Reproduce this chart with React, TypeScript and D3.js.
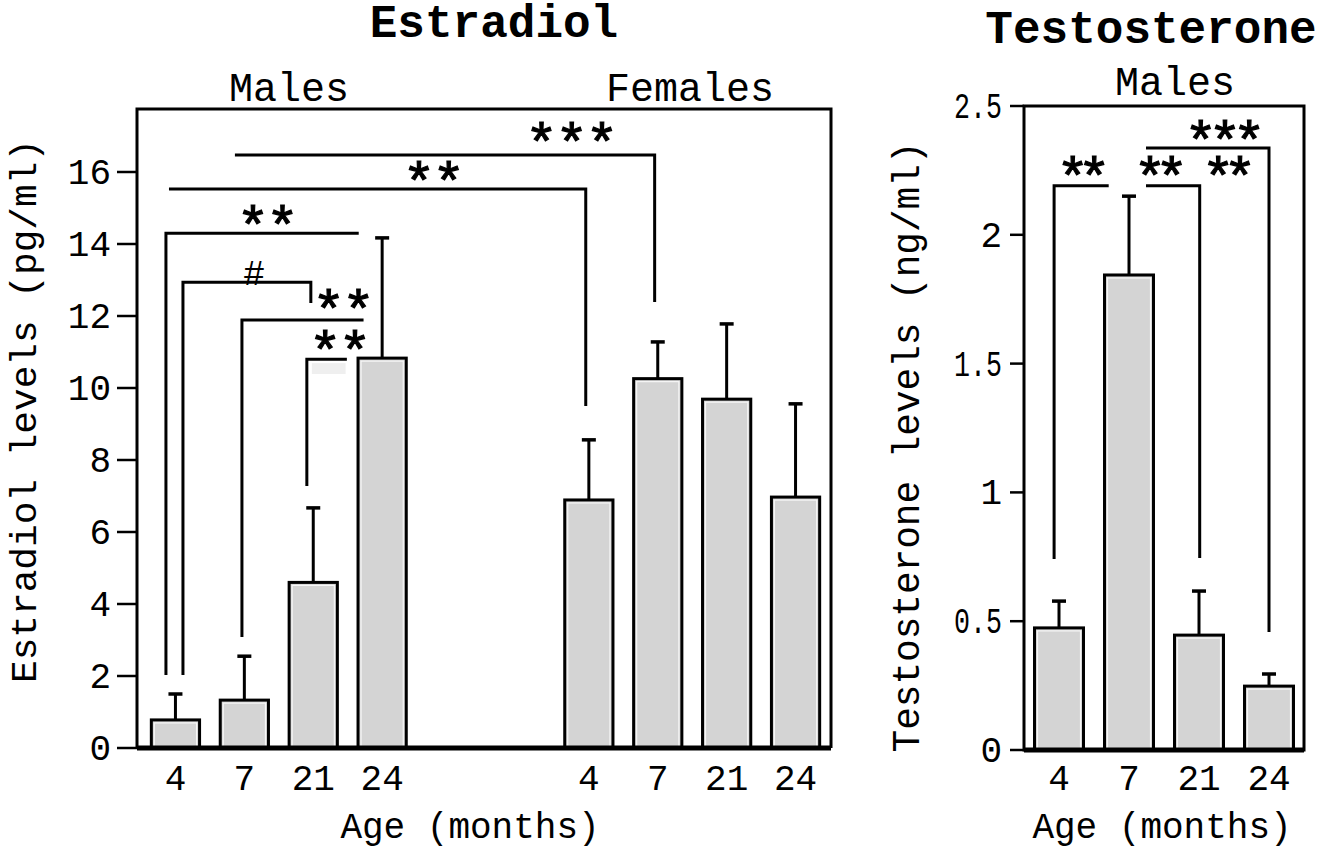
import React from "react";
import * as d3 from "d3";

// ---------- DATA ----------
const ageLabels = ["4", "7", "21", "24"];
const estradiolMales = [0.78, 1.33, 4.6, 10.83];
const estradiolMalesSem = [0.72, 1.22, 2.07, 3.34];
const estradiolFemales = [6.89, 10.26, 9.69, 6.97];
const estradiolFemalesSem = [1.67, 1.02, 2.09, 2.59];
const testosteroneMales = [0.474, 1.844, 0.446, 0.248];
const testosteroneMalesSem = [0.104, 0.306, 0.171, 0.047];
const estradiolTicks = [0, 2, 4, 6, 8, 10, 12, 14, 16];
const testosteroneTicks = [0, 0.5, 1, 1.5, 2, 2.5];
const testosteroneTickLabels = ["0", "0.5", "1", "1.5", "2", "2.5"];

// significance brackets (x in slot units, y in data units)
// left chart slots: males 0..3, females 6..9
const estradiolBrackets = [
  { x1: 0.863, x2: 6.955, y: 16.47, leftEnd: null, rightEnd: 12.39 },
  { x1: -0.094, x2: 5.955, y: 15.53, leftEnd: null, rightEnd: 9.5 },
  { x1: -0.138, x2: 2.66, y: 14.3, leftEnd: 2.03, rightEnd: null },
  { x1: 0.109, x2: 1.965, y: 12.94, leftEnd: 2.03, rightEnd: 12.36 },
  { x1: 0.965, x2: 2.73, y: 11.89, leftEnd: 3.08, rightEnd: null },
  { x1: 1.907, x2: 2.488, y: 10.8, leftEnd: 7.28, rightEnd: null },
];
const estradiolMarks = [
  { x: 5.75, y: 17.05, label: "***" },
  { x: 3.75, y: 15.97, label: "**" },
  { x: 1.34, y: 14.75, label: "**" },
  { x: 2.44, y: 12.42, label: "**" },
  { x: 2.39, y: 11.28, label: "**" },
];
const estradiolHash = [{ x: 1.14, y: 13.2, label: "#" }];

const testosteroneBrackets = [
  { x1: 1.243, x2: 3.0, y: 2.337, leftEnd: null, rightEnd: 0.458 },
  { x1: -0.07, x2: 0.71, y: 2.19, leftEnd: 0.741, rightEnd: null },
  { x1: 1.243, x2: 2.01, y: 2.19, leftEnd: null, rightEnd: 0.745 },
];
const testosteroneMarks = [
  { x: 2.37, y: 2.4, label: "***" },
  { x: 0.35, y: 2.26, label: "**" },
  { x: 1.455, y: 2.26, label: "**" },
  { x: 2.43, y: 2.26, label: "**" },
];

const FONT = "'Liberation Mono', 'Courier New', monospace";
const BAR_FILL = "#d4d4d4";

export default function App() {
  // ---------- LEFT (Estradiol) ----------
  const slots = ["M4", "M7", "M21", "M24", "g1", "g2", "F4", "F7", "F21", "F24"];
  const xL = d3.scaleBand<string>().domain(slots).range([141, 830]).paddingInner(0.3).paddingOuter(0.15);
  const yL = d3.scaleLinear().domain([0, 17.75]).range([748, 109]);
  const sL = d3.scaleLinear().domain([0, 9]).range([xL("M4")! + xL.bandwidth() / 2, xL("F24")! + xL.bandwidth() / 2]);
  const leftBars = [
    ...estradiolMales.map((v, i) => ({ key: slots[i], v, e: estradiolMalesSem[i], label: ageLabels[i] })),
    ...estradiolFemales.map((v, i) => ({ key: slots[i + 6], v, e: estradiolFemalesSem[i], label: ageLabels[i] })),
  ];
  const frameL = { x0: 137, x1: 831, y0: yL(17.75), y1: yL(0) };

  // ---------- RIGHT (Testosterone) ----------
  const xR = d3.scaleBand<string>().domain(ageLabels).range([1024, 1304]).paddingInner(0.3).paddingOuter(0.15);
  const yR = d3.scaleLinear().domain([0, 2.5]).range([750, 106]);
  const sR = d3.scaleLinear().domain([0, 3]).range([xR("4")! + xR.bandwidth() / 2, xR("24")! + xR.bandwidth() / 2]);
  const rightBars = testosteroneMales.map((v, i) => ({ key: ageLabels[i], v, e: testosteroneMalesSem[i], label: ageLabels[i] }));
  const frameR = { x0: 1024, x1: 1304, y0: yR(2.5), y1: yR(0) };

  const starSize = 54;
  const starOffset = starSize * 0.5;

  const renderBars = (
    bars: { key: string; v: number; e: number; label: string }[],
    x: d3.ScaleBand<string>,
    y: d3.ScaleLinear<number, number>
  ) =>
    bars.map((b) => {
      const bx = x(b.key)!;
      const bw = x.bandwidth();
      const cx = bx + bw / 2;
      return (
        <g key={b.key}>
          <line x1={cx} x2={cx} y1={y(b.v)} y2={y(b.v + b.e)} stroke="#000" strokeWidth={3} />
          <line x1={cx - 7} x2={cx + 7} y1={y(b.v + b.e)} y2={y(b.v + b.e)} stroke="#000" strokeWidth={3.5} />
          <rect x={bx} y={y(b.v)} width={bw} height={y(0) - y(b.v)} fill={BAR_FILL} stroke="#000" strokeWidth={3} />
          <rect x={bx + 3} y={y(b.v) + 3} width={bw - 6} height={y(0) - y(b.v) - 3} fill="none" stroke="#fff" strokeWidth={1.2} opacity={0.8} />
        </g>
      );
    });

  const renderBrackets = (
    br: { x1: number; x2: number; y: number; leftEnd: number | null; rightEnd: number | null }[],
    s: d3.ScaleLinear<number, number>,
    y: d3.ScaleLinear<number, number>
  ) =>
    br.map((b, i) => {
      const pts: [number, number][] = [];
      if (b.leftEnd !== null) pts.push([s(b.x1), y(b.leftEnd)]);
      pts.push([s(b.x1), y(b.y)]);
      pts.push([s(b.x2), y(b.y)]);
      if (b.rightEnd !== null) pts.push([s(b.x2), y(b.rightEnd)]);
      return <path key={i} d={d3.line()(pts)!} fill="none" stroke="#000" strokeWidth={3} strokeLinejoin="miter" />;
    });

  const renderMarks = (
    marks: { x: number; y: number; label: string }[],
    s: d3.ScaleLinear<number, number>,
    y: d3.ScaleLinear<number, number>,
    charStep: number
  ) =>
    marks.map((m, i) => (
      <text
        key={i}
        x={s(m.x)}
        y={y(m.y) + starOffset}
        textAnchor="middle"
        fontFamily={FONT}
        fontSize={starSize}
        fill="#000"
        stroke="#000"
        strokeWidth={1.2}
        textLength={m.label.length * charStep}
        lengthAdjust="spacing"
      >
        {m.label}
      </text>
    ));

  return (
    <svg width={1340} height={854} style={{ position: "absolute", left: 0, top: 0, background: "#fff" }} fontFamily={FONT}>
      <rect x={0} y={0} width={1340} height={854} fill="#fff" />
      {/* Titles */}
      <text x={494} y={37} textAnchor="middle" fontSize={46} fontWeight="bold">Estradiol</text>
      <text x={1151} y={43} textAnchor="middle" fontSize={46} fontWeight="bold">Testosterone</text>
      <text x={289} y={101} textAnchor="middle" fontSize={40}>Males</text>
      <text x={690} y={101} textAnchor="middle" fontSize={40}>Females</text>
      <text x={1175} y={95} textAnchor="middle" fontSize={40}>Males</text>

      {/* LEFT chart */}
      {renderBars(leftBars, xL, yL)}
      <path d={`M${frameL.x0},${frameL.y1}V${frameL.y0}H${frameL.x1}V${frameL.y1}`} fill="none" stroke="#000" strokeWidth={3} />
      <line x1={frameL.x0} x2={frameL.x1} y1={frameL.y1} y2={frameL.y1} stroke="#000" strokeWidth={5} />
      {estradiolTicks.map((t) => (
        <g key={t}>
          <line x1={117} x2={frameL.x0} y1={yL(t)} y2={yL(t)} stroke="#000" strokeWidth={2.5} />
          <text x={111} y={yL(t) + 12} textAnchor="end" fontSize={36}>{t}</text>
        </g>
      ))}
      {leftBars.map((b) => (
        <text key={"xl" + b.key} x={xL(b.key)! + xL.bandwidth() / 2} y={790} textAnchor="middle" fontSize={36}>{b.label}</text>
      ))}
      <text x={470} y={838} textAnchor="middle" fontSize={36}>Age (months)</text>
      <text transform="translate(36,411) rotate(-90)" textAnchor="middle" fontSize={37} textLength={544} lengthAdjust="spacingAndGlyphs">
        Estradiol levels (pg/ml)
      </text>
      <rect x={sL(1.98)} y={yL(10.69)} width={sL(2.47) - sL(1.98)} height={yL(10.39) - yL(10.69)} fill="#efefef" />
      {renderBrackets(estradiolBrackets, sL, yL)}
      {renderMarks(estradiolMarks, sL, yL, 31)}
      {estradiolHash.map((m, i) => (
        <text key={"h" + i} x={sL(m.x)} y={yL(m.y) + 12} textAnchor="middle" fontSize={36}>{m.label}</text>
      ))}

      {/* RIGHT chart */}
      {renderBars(rightBars, xR, yR)}
      <rect x={frameR.x0} y={frameR.y0} width={frameR.x1 - frameR.x0} height={frameR.y1 - frameR.y0} fill="none" stroke="#000" strokeWidth={3} />
      <line x1={frameR.x0} x2={frameR.x1} y1={frameR.y1} y2={frameR.y1} stroke="#000" strokeWidth={5} />
      {testosteroneTicks.map((t, i) => (
        <g key={t}>
          <line x1={1010} x2={frameR.x0} y1={yR(t)} y2={yR(t)} stroke="#000" strokeWidth={2.5} />
          <text
            x={1002}
            y={yR(t) + 12}
            textAnchor="end"
            fontSize={36}
            {...(testosteroneTickLabels[i].length > 1 ? { textLength: 48, lengthAdjust: "spacingAndGlyphs" } : {})}
          >
            {testosteroneTickLabels[i]}
          </text>
        </g>
      ))}
      {rightBars.map((b) => (
        <text key={"xr" + b.key} x={xR(b.key)! + xR.bandwidth() / 2} y={790} textAnchor="middle" fontSize={36}>{b.label}</text>
      ))}
      <text x={1162} y={838} textAnchor="middle" fontSize={36}>Age (months)</text>
      <text transform="translate(919,447) rotate(-90)" textAnchor="middle" fontSize={38} textLength={611} lengthAdjust="spacingAndGlyphs">
        Testosterone levels (ng/ml)
      </text>
      {renderBrackets(testosteroneBrackets, sR, yR)}
      {renderMarks(testosteroneMarks, sR, yR, 27)}
    </svg>
  );
}
